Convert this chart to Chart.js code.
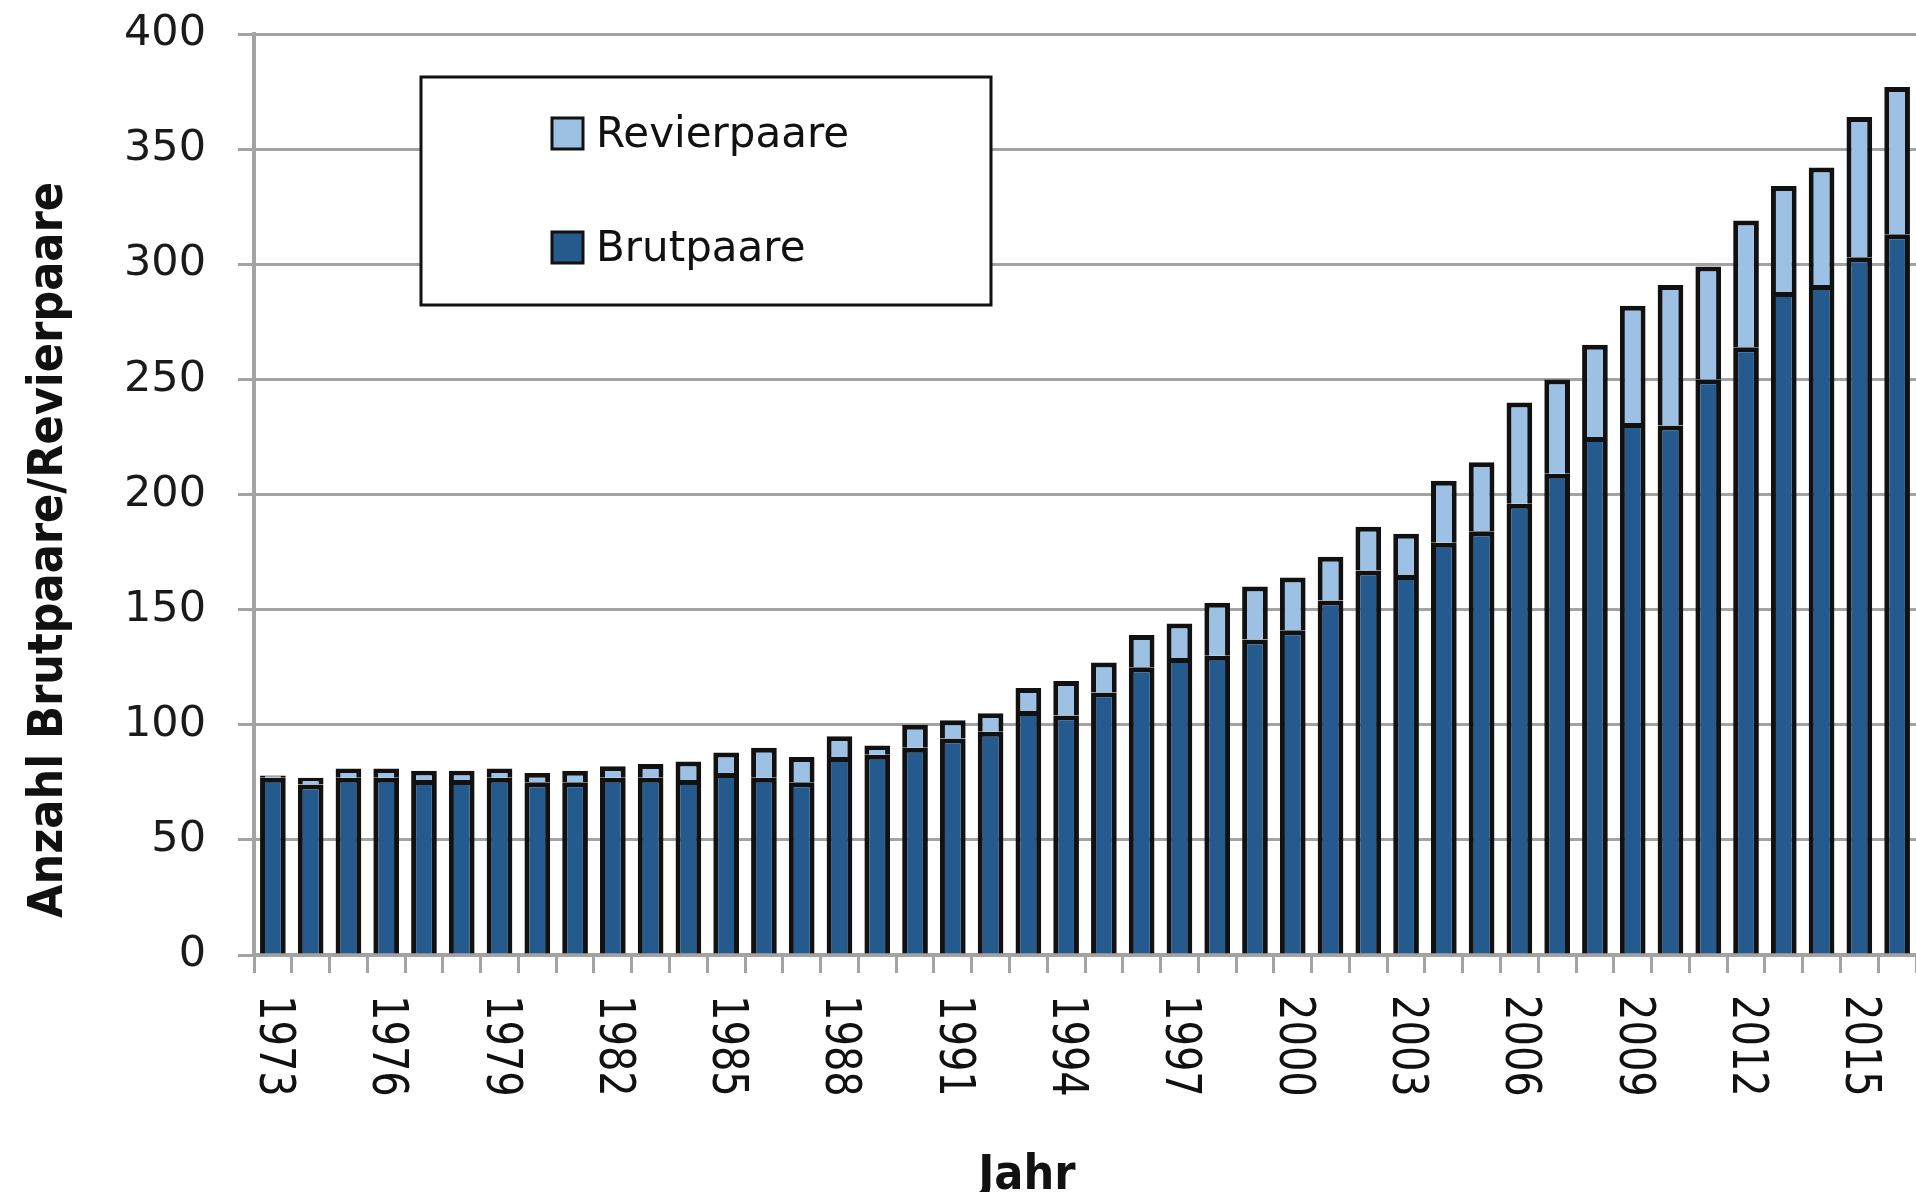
<!DOCTYPE html>
<html>
<head>
<meta charset="utf-8">
<script src="https://cdn.jsdelivr.net/npm/chart.js@4.4.1/dist/chart.umd.min.js"></script>
<style>
  html, body { margin: 0; padding: 0; background: #fff; }
  #wrap { width: 1916px; height: 1192px; position: relative; }
</style>
</head>
<body>
<div id="wrap"><canvas id="chart"></canvas></div>
<script>
const years = [];
for (let y = 1973; y <= 2016; y++) years.push(String(y));

// Brutpaare (unten) und Revierpaare (oben, zusätzlich)
const brutpaare = [77, 74, 77, 77, 76, 76, 77, 75, 75, 77, 77, 76, 79, 77, 75, 86, 87, 90, 94, 97,
  106, 104, 114, 125, 129, 130, 137, 141, 154, 167, 165, 179, 184, 196, 209, 225, 231, 230, 250, 264,
  288, 291, 303, 313];
const revierpaare = [1, 3, 4, 4, 4, 4, 4, 4, 5, 5, 6, 8, 9, 13, 11, 9, 4, 10, 8, 8,
  10, 15, 13, 14, 15, 23, 23, 23, 19, 19, 18, 27, 30, 44, 41, 40, 51, 61, 49, 55,
  46, 51, 61, 64];
const yTicks = [0, 50, 100, 150, 200, 250, 300, 350, 400];

const DARK = '#255a8e';
const LIGHT = '#9dc1e5';
const GRID = '#a3a3a3';

const extras = {
  id: 'extras',
  afterDraw(chart) {
    const { ctx, chartArea, scales } = chart;
    const x = scales.x;
    ctx.save();

    // x labels, read top to bottom
    ctx.fillStyle = '#111';
    ctx.font = '50px "DejaVu Sans"';
    ctx.textAlign = 'left';
    ctx.textBaseline = 'middle';
    years.forEach((lab, i) => {
      if (i % 3) return;
      const px = x.getPixelForTick(i);
      ctx.save();
      ctx.translate(px, x.top + 40);
      ctx.rotate(Math.PI / 2);
      ctx.scale(0.8, 1);
      ctx.fillText(lab, 0, 0);
      ctx.restore();
    });

    // axis titles
    ctx.font = 'bold 48px "DejaVu Sans Condensed", "DejaVu Sans"';
    ctx.textAlign = 'center';
    ctx.textBaseline = 'alphabetic';
    ctx.fillText('Jahr', chartArea.left + (chartArea.right - chartArea.left) * 0.465, 1189);
    ctx.save();
    ctx.translate(62, 550);
    ctx.rotate(-Math.PI / 2);
    ctx.fillText('Anzahl Brutpaare/Revierpaare', 0, 0);
    ctx.restore();

    // legend box
    const bx = 421, by = 77, bw = 570, bh = 228;
    ctx.fillStyle = '#fff';
    ctx.fillRect(bx, by, bw, bh);
    ctx.strokeStyle = '#111';
    ctx.lineWidth = 3;
    ctx.strokeRect(bx, by, bw, bh);
    const sets = chart.data.datasets.slice().reverse();
    ctx.font = '42px "DejaVu Sans"';
    ctx.textAlign = 'left';
    ctx.textBaseline = 'middle';
    sets.forEach((ds, i) => {
      const cy = 134 + i * 114;
      ctx.fillStyle = ds.backgroundColor;
      ctx.fillRect(552, cy - 16, 31, 31);
      ctx.lineWidth = 3;
      ctx.strokeRect(552, cy - 16, 31, 31);
      ctx.fillStyle = '#111';
      ctx.fillText(ds.label, 596, cy + 2);
    });
    ctx.restore();
  }
};

new Chart(document.getElementById('chart'), {
  type: 'bar',
  data: {
    labels: years,
    datasets: [
      { label: 'Brutpaare', data: brutpaare, backgroundColor: DARK, borderColor: '#111', borderWidth: 5 },
      { label: 'Revierpaare', data: revierpaare, backgroundColor: LIGHT, borderColor: '#111', borderWidth: 5 }
    ]
  },
  options: {
    responsive: true,
    maintainAspectRatio: false,
    animation: false,
    layout: { padding: { top: 34, left: 0, right: 0, bottom: 0 } },
    datasets: { bar: { barPercentage: 0.68, categoryPercentage: 1.0 } },
    plugins: { legend: { display: false }, tooltip: { enabled: false } },
    scales: {
      x: {
        stacked: true,
        grid: { drawOnChartArea: false, offset: true, color: GRID, lineWidth: 3, tickLength: 18 },
        border: { color: GRID, width: 4 },
        ticks: { display: false, autoSkip: false },
        afterFit: s => { s.height = 237; s.paddingLeft = 0; s.paddingRight = 0; }
      },
      y: {
        stacked: true,
        min: 0,
        max: 400,
        afterBuildTicks: s => { s.ticks = yTicks.map(v => ({ value: v })); },
        grid: { color: GRID, lineWidth: 3, tickLength: 16 },
        border: { color: GRID, width: 4 },
        ticks: { padding: 32, color: '#1a1a1a', font: { family: 'DejaVu Sans', size: 43 } },
        afterFit: s => { s.width = 254; s.paddingTop = 0; s.paddingBottom = 0; }
      }
    }
  },
  plugins: [extras]
});
</script>
</body>
</html>
